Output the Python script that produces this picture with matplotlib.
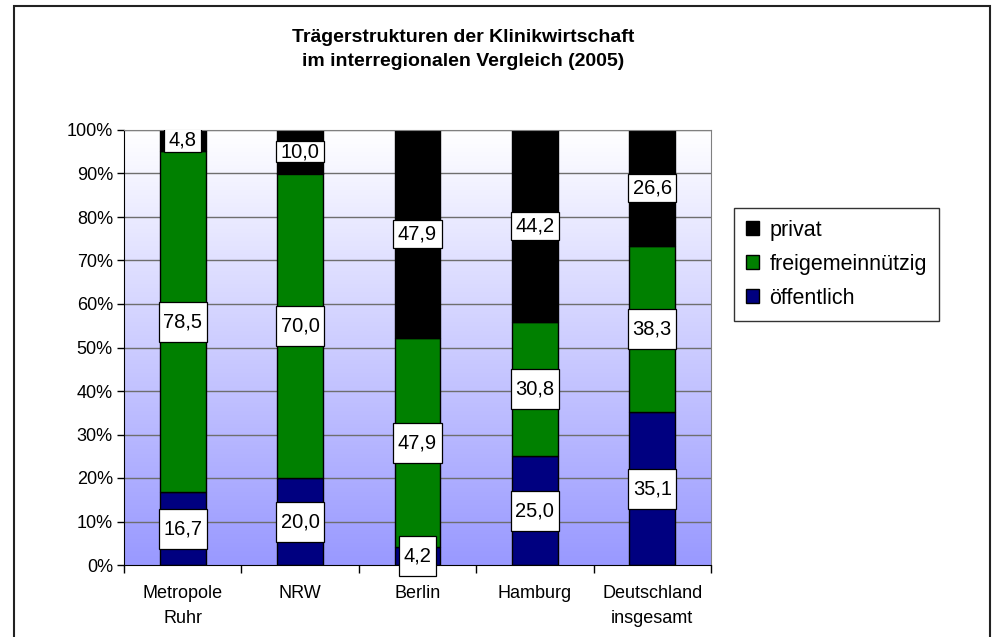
import numpy as np
import matplotlib.pyplot as plt
from matplotlib.patches import Rectangle
from matplotlib.transforms import IdentityTransform

plt.rcParams['font.family'] = ['Liberation Sans', 'DejaVu Sans']

# ====== DATEN ======
regionen = ["Metropole\nRuhr", "NRW", "Berlin", "Hamburg", "Deutschland\ninsgesamt"]
oeffentlich = [16.7, 20.0, 4.2, 25.0, 35.1]
freigemein = [78.5, 70.0, 47.9, 30.8, 38.3]
privat = [4.8, 10.0, 47.9, 44.2, 26.6]

farben = {"öffentlich": "#000080", "freigemeinnützig": "#008000", "privat": "#000000"}

# Hoehe der weissen Beschriftungskaestchen (Pixel)
kasten_hoehe = {"öffentlich": 40, "freigemeinnützig": 40, "privat": 28}
kasten_sonder = {("privat", 0): 24, ("privat", 1): 21}

# ====== FIGUR ======
fig = plt.figure(figsize=(9.92, 6.37), dpi=100)
ax = fig.add_axes([124 / 992, 1 - 565 / 637, (711 - 124) / 992, (565 - 130) / 637])

x = np.arange(len(regionen))
ax.set_xlim(-0.5, len(regionen) - 0.5)
ax.set_ylim(0, 100)

# Hintergrund mit Verlauf (oben weiss, unten blau-lila)
verlauf = np.linspace(0, 1, 256).reshape(-1, 1)
oben = np.array([1.0, 1.0, 1.0])
unten = np.array([0.60, 0.60, 1.0])
bild = oben + (unten - oben) * verlauf[:, :, None]
ax.imshow(bild, extent=[-0.5, len(regionen) - 0.5, 0, 100], origin="upper",
          aspect="auto", zorder=0)

# Gitterlinien
for yv in range(10, 101, 10):
    ax.axhline(yv, color="#6e6e6e", lw=1, zorder=1)

breite = 0.39
texte = []
unten_werte = np.zeros(len(regionen))
for name, werte in [("öffentlich", oeffentlich), ("freigemeinnützig", freigemein), ("privat", privat)]:
    ax.bar(x, werte, breite, bottom=unten_werte, color=farben[name],
           edgecolor="black", linewidth=1, label=name, zorder=2)
    for i, (xi, b, w) in enumerate(zip(x, unten_werte, werte)):
        t = ax.text(xi, b + w / 2, f"{w:.1f}".replace(".", ","), ha="center", va="center",
                    fontsize=14.5, zorder=4, clip_on=False)
        h = kasten_sonder.get((name, i), kasten_hoehe[name])
        texte.append((t, h))
    unten_werte = unten_werte + np.array(werte)

# Achsen
ax.set_yticks(range(0, 101, 10))
ax.set_yticklabels([f"{v}%" for v in range(0, 101, 10)], fontsize=13)
ax.tick_params(axis="y", direction="out", length=5, width=1, pad=3)

ax.set_xticks(np.arange(-0.5, len(regionen), 1))
ax.set_xticklabels([])
ax.tick_params(axis="x", direction="out", length=6, width=1)
for xi, lab in zip(x, regionen):
    ax.text(xi, -4.6, lab, ha="center", va="top", fontsize=13, linespacing=1.6,
            clip_on=False)

ax.spines["left"].set_color("black")
ax.spines["bottom"].set_color("black")
ax.spines["top"].set_color("#808080")
ax.spines["right"].set_color("#808080")

# Legende
handles, labels = ax.get_legend_handles_labels()
leg = fig.legend(handles[::-1], labels[::-1], loc="upper left",
                 bbox_to_anchor=(734 / 992, 1 - 208 / 637), fontsize=15.5,
                 frameon=True, fancybox=False, edgecolor="black",
                 handlelength=0.6, handleheight=0.6, handletextpad=0.5,
                 labelspacing=0.6, borderpad=0.55, borderaxespad=0)
leg.get_frame().set_linewidth(1)

# Titel
fig.text(463 / 992, 1 - 37 / 637, "Trägerstrukturen der Klinikwirtschaft",
         ha="center", va="center", fontsize=14, fontweight="bold")
fig.text(463 / 992, 1 - 61 / 637, "im interregionalen Vergleich (2005)",
         ha="center", va="center", fontsize=14, fontweight="bold")

# Rahmen um das Diagramm
fig.patches.append(Rectangle((14 / 992, -0.05), (990 - 14) / 992, 1 - 6 / 637 + 0.05,
                             transform=fig.transFigure, fill=False,
                             ec="#222222", lw=1.5))

# weisse Kaestchen hinter den Werten
fig.canvas.draw()
for t, h in texte:
    bb = t.get_window_extent()
    cy = (bb.y0 + bb.y1) / 2
    r = Rectangle((bb.x0 - 4.5, cy - h / 2), bb.width + 9, h, transform=IdentityTransform(),
                  fc="white", ec="black", lw=0.9, zorder=3)
    ax.add_patch(r)
    if h < 30 and t.get_position()[1] > 90:
        r.set_clip_box(ax.bbox)
    else:
        r.set_clip_on(False)

fig.savefig("out.png", dpi=100)
